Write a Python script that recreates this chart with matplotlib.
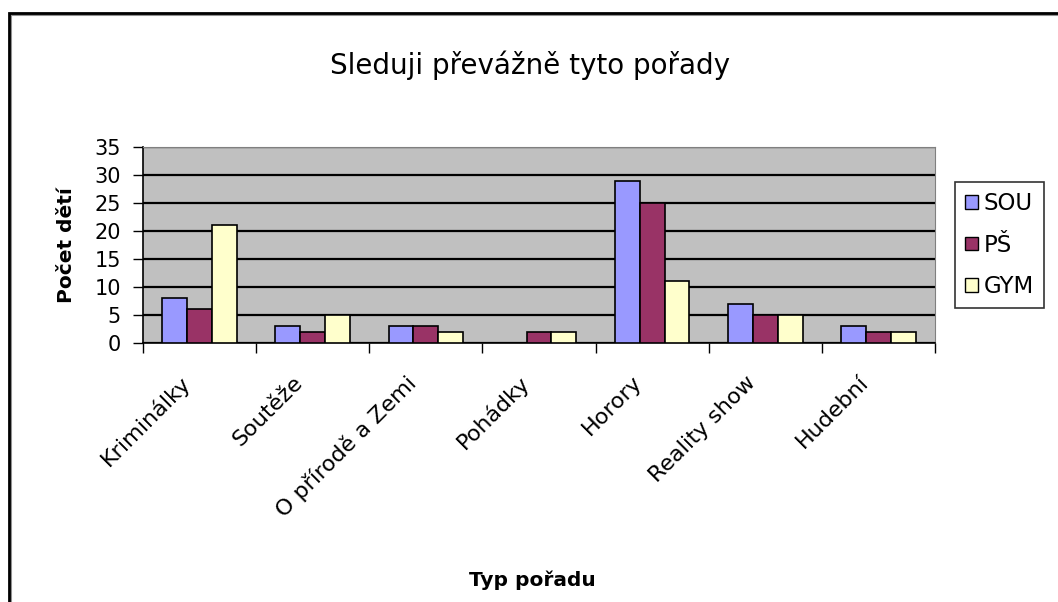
import numpy as np
import matplotlib
matplotlib.use("Agg")
import matplotlib.pyplot as plt
from matplotlib.patches import Patch, Rectangle
import matplotlib.transforms as mtransforms

categories = ["Kriminálky", "Soutěže", "O přírodě a Zemi", "Pohádky",
              "Horory", "Reality show", "Hudební"]
sou = [8, 3, 3, 0, 29, 7, 3]
ps = [6, 2, 3, 2, 25, 5, 2]
gym = [21, 5, 2, 2, 11, 5, 2]
series_names = ["SOU", "PŠ", "GYM"]
colors = ["#9999FF", "#993366", "#FFFFCC"]
y_ticks = [0, 5, 10, 15, 20, 25, 30, 35]

plt.rcParams['font.family'] = ['DejaVu Sans']

W, H = 1058, 602
fig = plt.figure(figsize=(W / 100, H / 100), dpi=100)

# outer frame (only top and left edges visible), with a grey shadow line
shadow = Rectangle((11 / W, -0.2), 1.2, 1 - 15 / H + 0.2, transform=fig.transFigure,
                   fill=False, edgecolor="#909090", linewidth=1.5, clip_on=False)
frame = Rectangle((9 / W, -0.2), 1.2, 1 - 13 / H + 0.2, transform=fig.transFigure,
                  fill=False, edgecolor="black", linewidth=2, clip_on=False)
fig.patches.append(shadow)
fig.patches.append(frame)

ax = fig.add_axes([143 / W, 1 - 343 / H, (935 - 143) / W, (343 - 147) / H])
ax.set_facecolor("#C0C0C0")

x = np.arange(len(categories))
bw = 0.22
for i, (vals, name, c) in enumerate(zip([sou, ps, gym], series_names, colors)):
    ax.bar(x + (i - 1) * bw, vals, width=bw, color=c, edgecolor="black",
           linewidth=1.2, label=name, zorder=3)

ax.set_xlim(-0.5, len(categories) - 0.5)
ax.set_ylim(0, 35)
ax.set_yticks(y_ticks)
ax.yaxis.grid(True, color="black", linewidth=1.6, zorder=1)
ax.set_axisbelow(True)

ax.set_xticks(np.arange(-0.5, len(categories)), labels=[""] * (len(categories) + 1))
ax.set_xticks(x, minor=True)
ax.set_xticklabels(categories, minor=True, rotation=45, ha="right",
                   rotation_mode="anchor", fontsize=16)
ax.tick_params(axis="x", which="major", length=7, width=1, direction="out")
ax.tick_params(axis="x", which="minor", length=0, pad=21)
ax.tick_params(axis="y", length=7, width=1, direction="out", labelsize=15, pad=9)
offset = mtransforms.ScaledTranslation(-20 / 100, 0, fig.dpi_scale_trans)
for lbl in ax.xaxis.get_minorticklabels():
    lbl.set_transform(lbl.get_transform() + offset)

for s in ["top", "right"]:
    ax.spines[s].set_color("#808080")
for s in ["left", "bottom"]:
    ax.spines[s].set_color("black")
    ax.spines[s].set_linewidth(1.2)

handles = [Patch(facecolor=c, edgecolor="black", linewidth=1) for c in colors]
leg = fig.legend(handles, series_names, loc="upper left",
                 bbox_to_anchor=(955 / W, 1 - 182 / H), fontsize=16.5,
                 frameon=True, fancybox=False, edgecolor="black",
                 handlelength=0.55, handleheight=0.55, handletextpad=0.25,
                 labelspacing=0.8, borderpad=0.45, borderaxespad=0)
leg.get_frame().set_linewidth(1.2)

fig.text(530 / W, 1 - 65 / H, "Sleduji převážně tyto pořady", ha="center",
         va="center", fontsize=20)
fig.text(67 / W, 1 - 245 / H, "Počet dětí", ha="center", va="center",
         rotation=90, fontsize=14.5, fontweight="bold")
fig.text(532 / W, 1 - 580 / H, "Typ pořadu", ha="center", va="center",
         fontsize=14.5, fontweight="bold")

fig.savefig("out.png", dpi=100, facecolor="white")
